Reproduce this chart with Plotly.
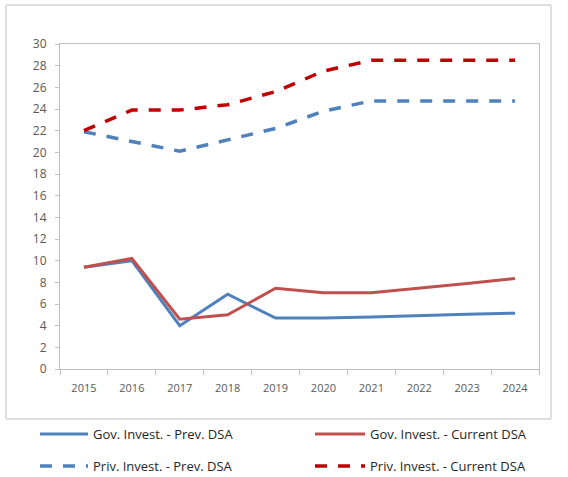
import plotly.graph_objects as go

years = ["2015", "2016", "2017", "2018", "2019", "2020", "2021", "2022", "2023", "2024"]

gov_prev = [9.4, 10.0, 4.0, 6.9, 4.7, 4.7, 4.8, 4.95, 5.05, 5.15]
gov_curr = [9.4, 10.2, 4.6, 5.0, 7.45, 7.05, 7.05, 7.45, 7.9, 8.35]
priv_prev = [21.9, 21.0, 20.1, 21.15, 22.2, 23.8, 24.75, 24.75, 24.75, 24.75]
priv_curr = [22.0, 23.9, 23.9, 24.4, 25.6, 27.5, 28.5, 28.5, 28.5, 28.5]

names = [
    "Gov. Invest. - Prev. DSA",
    "Gov. Invest. - Current DSA",
    "Priv. Invest. - Prev. DSA",
    "Priv. Invest. - Current DSA",
]

BLUE = "#4f81bd"
RED = "#c0504d"
DARK_RED = "#c00000"
DASH = "12px,11px"

fig = go.Figure()
fig.add_trace(go.Scatter(x=years, y=gov_prev, name=names[0], mode="lines",
                         line=dict(color=BLUE, width=3), legend="legend"))
fig.add_trace(go.Scatter(x=years, y=gov_curr, name=names[1], mode="lines",
                         line=dict(color=RED, width=3), legend="legend2"))
fig.add_trace(go.Scatter(x=years, y=priv_prev, name=names[2], mode="lines",
                         line=dict(color=BLUE, width=3.5, dash=DASH), legend="legend3"))
fig.add_trace(go.Scatter(x=years, y=priv_curr, name=names[3], mode="lines",
                         line=dict(color=DARK_RED, width=3.5, dash=DASH), legend="legend4"))

W, H = 568, 477
L, R, T, B = 60, 29, 44, 108
pw, ph = W - L - R, H - T - B

def px_x(v):
    return (v - L) / pw

def px_y(v):
    return (H - B - v) / ph

axis_col = "#bfbfbf"
tick_col = "#595959"
FONT = "Open Sans, Noto Sans, sans-serif"

def legend_at(x, y, sample):
    return dict(
        x=px_x(x), y=px_y(y),
        xanchor="left", yanchor="middle",
        orientation="h",
        itemwidth=sample,
        font=dict(family=FONT, size=13, color="#262626"),
        bgcolor="rgba(0,0,0,0)",
        itemclick=False,
        itemdoubleclick=False,
    )

fig.update_layout(
    width=W,
    height=H,
    margin=dict(l=L, r=R, t=T, b=B, autoexpand=False),
    paper_bgcolor="white",
    plot_bgcolor="white",
    showlegend=True,
    legend=legend_at(35, 434, 48),
    legend2=legend_at(310, 434, 50),
    legend3=legend_at(35, 466, 48),
    legend4=legend_at(310, 466, 50),
    xaxis=dict(
        type="category",
        tickson="boundaries",
        ticks="outside",
        ticklen=5,
        tickcolor=axis_col,
        showline=True,
        linecolor=axis_col,
        linewidth=1,
        mirror=True,
        showgrid=False,
        ticklabelstandoff=9,
        tickfont=dict(family=FONT, size=11, color=tick_col),
        range=[-0.5, 9.5],
    ),
    yaxis=dict(
        range=[0, 30],
        dtick=2,
        ticks="outside",
        ticklen=4,
        tickcolor=axis_col,
        showline=True,
        linecolor=axis_col,
        linewidth=1,
        mirror=True,
        showgrid=False,
        zeroline=False,
        ticklabelstandoff=6,
        tickfont=dict(family=FONT, size=12, color=tick_col),
    ),
    shapes=[
        dict(type="rect", xref="paper", yref="paper",
             x0=px_x(6), x1=px_x(551), y0=px_y(419), y1=px_y(5),
             line=dict(color=axis_col, width=1), fillcolor="rgba(0,0,0,0)", layer="below"),
    ],
)

fig.write_html("out.html")
